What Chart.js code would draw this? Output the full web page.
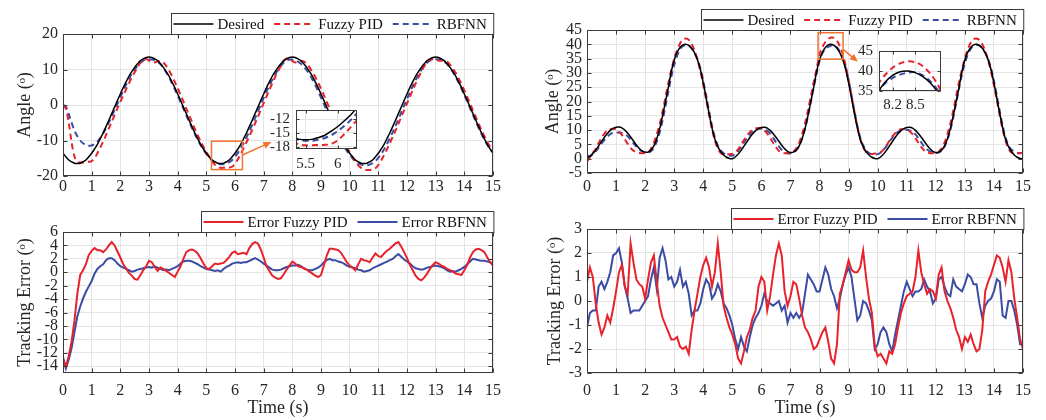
<!DOCTYPE html>
<html>
<head>
<meta charset="utf-8">
<script src="https://cdn.jsdelivr.net/npm/chart.js@4.4.1/dist/chart.umd.min.js"></script>
<style>
    html, body { margin: 0; padding: 0; background: #fff; }
    #figura { position: relative; width: 1046px; height: 420px; overflow: hidden; background: #fff; }
    #figura canvas { position: absolute; }
</style>
</head>
<body>
<div id="figura">
    <canvas id="anguloEsq" width="520" height="200" style="left:0;top:0"></canvas>
    <canvas id="anguloDir" width="523" height="200" style="left:523px;top:0"></canvas>
    <canvas id="erroEsq" width="520" height="215" style="left:0;top:205px"></canvas>
    <canvas id="erroDir" width="523" height="215" style="left:523px;top:205px"></canvas>
    <canvas id="zoomEsq" width="115" height="80" style="left:250px;top:95px"></canvas>
    <canvas id="zoomDir" width="112" height="76" style="left:838px;top:36px"></canvas>
</div>
<script>
// sample times (s)
const timeS = [
    0,0.1,0.2,0.3,0.4,0.5,0.6,0.7,0.8,0.9,
    1,1.1,1.2,1.3,1.4,1.5,1.6,1.7,1.8,1.9,
    2,2.1,2.2,2.3,2.4,2.5,2.6,2.7,2.8,2.9,
    3,3.1,3.2,3.3,3.4,3.5,3.6,3.7,3.8,3.9,
    4,4.1,4.2,4.3,4.4,4.5,4.6,4.7,4.8,4.9,
    5,5.1,5.2,5.3,5.4,5.5,5.6,5.7,5.8,5.9,
    6,6.1,6.2,6.3,6.4,6.5,6.6,6.7,6.8,6.9,
    7,7.1,7.2,7.3,7.4,7.5,7.6,7.7,7.8,7.9,
    8,8.1,8.2,8.3,8.4,8.5,8.6,8.7,8.8,8.9,
    9,9.1,9.2,9.3,9.4,9.5,9.6,9.7,9.8,9.9,
    10,10.1,10.2,10.3,10.4,10.5,10.6,10.7,10.8,10.9,
    11,11.1,11.2,11.3,11.4,11.5,11.6,11.7,11.8,11.9,
    12,12.1,12.2,12.3,12.4,12.5,12.6,12.7,12.8,12.9,
    13,13.1,13.2,13.3,13.4,13.5,13.6,13.7,13.8,13.9,
    14,14.1,14.2,14.3,14.4,14.5,14.6,14.7,14.8,14.9,
    15
];

// joint 1 angle (deg)
const desiredLeft = [
    -13.6,-14.6,-15.5,-16.0,-16.4,-16.5,-16.4,-16.0,-15.5,-14.6,
    -13.6,-12.4,-11.1,-9.5,-7.9,-6.1,-4.3,-2.4,-0.6,1.3,
    3.1,4.9,6.5,8.1,9.4,10.6,11.6,12.5,13.0,13.4,
    13.5,13.4,13.0,12.5,11.6,10.6,9.4,8.1,6.5,4.9,
    3.1,1.3,-0.6,-2.4,-4.3,-6.1,-7.9,-9.5,-11.1,-12.4,
    -13.6,-14.6,-15.5,-16.0,-16.4,-16.5,-16.4,-16.0,-15.5,-14.6,
    -13.6,-12.4,-11.1,-9.5,-7.9,-6.1,-4.3,-2.4,-0.6,1.3,
    3.1,4.9,6.5,8.1,9.4,10.6,11.6,12.5,13.0,13.4,
    13.5,13.4,13.0,12.5,11.6,10.6,9.4,8.1,6.5,4.9,
    3.1,1.3,-0.6,-2.4,-4.3,-6.1,-7.9,-9.5,-11.1,-12.4,
    -13.6,-14.6,-15.5,-16.0,-16.4,-16.5,-16.4,-16.0,-15.5,-14.6,
    -13.6,-12.4,-11.1,-9.5,-7.9,-6.1,-4.3,-2.4,-0.6,1.3,
    3.1,4.9,6.5,8.1,9.4,10.6,11.6,12.5,13.0,13.4,
    13.5,13.4,13.0,12.5,11.6,10.6,9.4,8.1,6.5,4.9,
    3.1,1.3,-0.6,-2.4,-4.3,-6.1,-7.9,-9.5,-11.1,-12.4,
    -13.6
];
const fuzzyLeft = [
    0,-1.0,-5.0,-10.5,-14.5,-16.0,-16.2,-16.2,-16.1,-16.0,
    -15.8,-15.0,-13.6,-12.0,-10.3,-8.5,-6.6,-4.7,-2.8,-0.9,
    0.9,2.7,4.4,6.1,7.7,9.2,10.6,11.9,12.8,13.0,
    12.5,12.0,12.0,12.3,12.4,12.0,11.0,9.7,8.2,6.5,
    4.7,2.9,1.0,-1.0,-2.9,-4.8,-6.7,-8.5,-10.2,-11.8,
    -13.2,-14.6,-15.8,-16.8,-17.5,-17.7,-17.7,-17.6,-17.6,-17.4,
    -16.6,-15.3,-13.8,-12.2,-10.5,-8.8,-7.0,-5.2,-3.3,-1.4,
    0.5,2.4,4.3,6.1,7.9,9.5,11.0,12.4,13.1,12.9,
    12.4,12.0,12.1,12.4,12.3,11.6,10.6,9.3,7.9,6.3,
    4.6,2.8,0.9,-1.0,-2.9,-4.8,-6.7,-8.5,-10.2,-11.9,
    -13.4,-14.8,-16.0,-17.0,-17.7,-18.1,-18.3,-18.3,-18.2,-17.8,
    -16.9,-15.6,-14.1,-12.5,-10.8,-9.0,-7.2,-5.3,-3.4,-1.5,
    0.4,2.3,4.2,6.0,7.8,9.4,10.9,12.1,12.8,12.9,
    12.7,12.5,12.5,12.5,12.2,11.4,10.3,9.0,7.5,5.9,
    4.1,2.3,0.4,-1.5,-3.4,-5.3,-7.1,-8.8,-10.4,-11.8,
    -13.0
];
const rbfLeft = [
    0,-0.5,-2.5,-5.0,-7.2,-8.8,-10.0,-10.8,-11.3,-11.5,
    -11.4,-11.0,-10.3,-9.3,-8.0,-6.5,-4.9,-3.2,-1.4,0.4,
    2.2,4.0,5.7,7.3,8.8,10.0,11.1,11.9,12.5,12.8,
    12.9,12.8,12.6,12.2,11.5,10.5,9.2,7.8,6.2,4.5,
    2.7,0.9,-1.0,-2.9,-4.7,-6.5,-8.2,-9.8,-11.3,-12.6,
    -13.8,-14.8,-15.6,-16.2,-16.5,-16.7,-16.7,-16.5,-16.1,-15.5,
    -14.6,-13.5,-12.2,-10.7,-9.1,-7.4,-5.6,-3.7,-1.8,0.1,
    2.0,3.8,5.5,7.1,8.6,9.9,11.0,11.9,12.5,12.8,
    12.8,12.6,12.2,11.6,10.8,9.8,8.6,7.2,5.6,3.9,
    2.1,0.3,-1.6,-3.5,-5.3,-7.0,-8.7,-10.2,-11.6,-12.9,
    -14.0,-15.0,-15.8,-16.4,-16.8,-17.0,-17.0,-16.8,-16.4,-15.8,
    -14.9,-13.8,-12.5,-11.0,-9.4,-7.7,-5.9,-4.0,-2.1,-0.2,
    1.7,3.5,5.3,7.0,8.5,9.9,11.0,11.9,12.5,12.8,
    12.9,12.8,12.6,12.2,11.5,10.5,9.3,7.9,6.3,4.6,
    2.8,1.0,-0.9,-2.8,-4.7,-6.5,-8.2,-9.8,-11.2,-12.4,
    -13.4
];

// joint 2 angle (deg)
const desiredRight = [
    0.3,0.8,1.8,3.0,4.5,6.0,7.5,8.8,9.9,10.6,
    11.0,11.1,10.8,10.0,8.9,7.6,6.2,4.8,3.6,2.7,
    2.3,2.3,3.0,4.5,7.0,10.5,15.0,20.0,25.0,30.5,
    34.5,37.2,38.9,39.8,40.0,39.6,38.6,37.0,34.6,31.2,
    26.5,21.2,15.8,10.8,6.8,4.2,2.5,1.3,0.5,0.1,
    0.0,0.6,1.6,2.9,4.4,5.9,7.4,8.7,9.8,10.5,
    10.9,11.0,10.7,9.9,8.8,7.5,6.1,4.7,3.5,2.6,
    2.2,2.3,3.0,4.5,7.0,10.5,15.0,20.0,25.0,30.5,
    34.5,37.2,38.9,39.8,40.0,39.6,38.6,37.0,34.6,31.2,
    26.5,21.2,15.8,10.8,6.8,4.2,2.5,1.3,0.5,0.1,
    0.0,0.6,1.6,2.9,4.4,5.9,7.4,8.7,9.8,10.5,
    10.9,11.0,10.7,9.9,8.8,7.5,6.1,4.7,3.5,2.6,
    2.2,2.3,3.0,4.5,7.0,10.5,15.0,20.0,25.0,30.5,
    34.5,37.2,38.9,39.8,40.0,39.6,38.6,37.0,34.6,31.2,
    26.5,21.2,15.8,10.8,6.8,4.2,2.5,1.3,0.5,0.1,
    0.0
];
const fuzzyRight = [
    -1.0,0.5,2.0,3.5,5.5,7.3,8.8,9.8,10.3,10.5,
    10.3,9.5,8.3,6.8,5.2,3.8,2.8,2.2,2.0,1.9,
    2.0,2.2,3.5,5.5,8.5,12.0,16.5,21.5,26.5,31.0,
    35.0,38.0,40.3,41.7,42.0,41.6,40.2,37.8,34.6,30.6,
    25.8,20.6,15.3,10.4,6.4,3.5,2.0,1.5,1.5,1.6,
    1.7,2.2,3.3,4.8,6.5,8.0,9.3,10.2,10.6,10.7,
    10.5,9.9,8.8,7.3,5.6,4.0,2.8,2.1,1.9,1.9,
    2.0,2.4,3.6,5.6,8.6,12.2,16.8,21.8,26.8,31.4,
    36.5,39.0,40.8,41.9,42.4,42.2,41.2,39.3,36.5,32.5,
    27.5,22.0,16.5,11.3,7.0,4.0,2.4,1.8,1.6,1.8,
    1.8,2.2,3.2,4.6,6.2,7.7,8.9,9.8,10.3,10.4,
    10.2,9.6,8.6,7.2,5.6,4.1,2.9,2.2,1.9,1.9,
    2.0,2.4,3.6,5.6,8.6,12.2,16.8,21.8,26.8,31.2,
    35.2,38.3,40.5,41.8,42.0,41.5,40.0,37.6,34.4,30.4,
    25.6,20.4,15.1,10.2,6.3,3.5,2.2,1.8,1.8,1.9,
    2.0
];
const rbfRight = [
    1.2,0.9,1.5,2.6,3.9,5.3,6.6,7.7,8.6,9.1,
    9.2,9.1,9.0,8.6,7.8,6.7,5.4,4.2,3.2,2.5,
    2.1,2.1,2.6,3.8,6.0,9.2,13.4,18.4,23.6,28.6,
    32.8,36.0,38.2,39.4,39.7,39.5,38.6,37.0,34.8,31.6,
    27.2,22.0,16.6,11.5,7.4,4.6,2.9,1.9,1.4,1.1,
    1.1,1.6,2.7,4.1,5.7,7.2,8.5,9.5,10.2,10.5,
    10.6,10.4,9.8,8.8,7.4,5.8,4.3,3.1,2.3,1.9,
    1.9,2.2,3.0,4.5,7.0,10.4,14.8,19.8,25.0,29.8,
    34.2,36.9,38.3,39.1,39.6,39.7,38.9,37.4,35.1,31.8,
    27.4,22.2,16.8,11.7,7.5,4.7,3.0,2.0,1.6,1.5,
    1.6,2.1,3.1,4.4,5.9,7.3,8.5,9.4,9.9,10.1,
    10.1,9.9,9.4,8.5,7.2,5.7,4.3,3.2,2.5,2.1,
    2.0,2.1,2.8,4.2,6.6,10.0,14.4,19.4,24.6,29.4,
    33.4,36.4,38.4,39.5,39.8,39.5,38.6,37.0,34.8,31.6,
    27.2,22.0,16.6,11.5,7.4,4.7,3.2,2.5,2.1,2.0,
    2.0
];

// tracking errors (deg)
const errFuzzyLeft = [
    -13.1,-14.0,-12.5,-10.3,-7.2,-3.2,-0.4,0.3,1.2,2.6,
    3.2,3.6,3.3,3.3,3.0,3.4,4.0,4.5,4.0,3.1,
    2.2,1.2,0.6,-0.1,-0.5,-1.0,-1.1,-0.4,0.3,0.9,
    1.7,1.5,0.8,0.2,0.7,0.5,0.2,-0.1,-0.4,-0.7,
    0.1,0.9,2.0,3.0,3.3,3.4,3.2,2.8,2.1,1.3,
    0.6,0.5,0.9,1.3,1.2,1.3,1.4,1.8,2.3,2.9,
    3.1,2.7,2.8,2.9,2.7,3.6,4.2,4.5,4.3,3.4,
    2.2,0.9,0.2,-0.5,-0.8,-1.0,-0.9,-0.3,0.4,1.0,
    1.6,1.3,0.9,0.8,0.6,0.4,0.1,-0.2,-0.5,-0.7,
    -0.4,1.0,2.5,3.5,3.5,3.4,3.3,2.9,2.2,1.5,
    1.0,0.7,0.3,1.2,2.0,1.8,1.7,1.5,2.2,2.8,
    2.4,2.3,2.8,3.2,3.5,3.9,4.3,4.5,3.8,3.0,
    2.1,1.1,0.3,-0.5,-1.0,-1.2,-0.8,-0.2,0.5,1.1,
    1.5,1.3,1.0,0.8,0.5,0.3,0.1,-0.2,-0.3,-0.4,
    0.3,1.1,2.2,3.0,3.4,3.5,3.3,3.0,2.2,1.5,
    1.0
];
const errRbfLeft = [
    -12.6,-14.3,-13.0,-11.3,-8.9,-6.6,-5.1,-3.9,-2.9,-2.1,
    -1.3,-0.2,0.5,0.9,1.2,1.8,2.1,2.1,1.8,1.3,
    0.9,0.7,0.5,0.3,0.1,0.2,0.4,0.5,0.6,0.7,
    0.8,0.7,0.9,0.7,0.5,0.3,0.4,0.3,0.5,0.7,
    0.9,1.3,1.6,1.7,1.7,1.6,1.4,1.2,0.9,0.7,
    0.5,0.4,0.3,0.2,0.3,0.1,0.5,0.8,1.0,1.3,
    1.4,1.5,1.4,1.5,1.5,1.7,1.9,2.1,1.9,1.6,
    1.3,1.0,0.7,0.4,0.3,0.3,0.4,0.6,0.8,0.9,
    1.0,1.0,1.1,0.9,0.6,0.4,0.3,0.3,0.5,0.7,
    1.0,1.5,1.8,2.0,1.8,1.8,1.6,1.5,1.3,1.0,
    0.8,0.7,0.6,0.4,0.3,0.1,0.2,0.3,0.6,0.8,
    1.0,1.2,1.4,1.6,1.8,2.0,2.4,2.7,2.3,1.9,
    1.6,1.3,0.9,0.6,0.5,0.4,0.5,0.7,0.8,0.9,
    1.0,0.9,0.8,0.6,0.3,0.1,0.2,0.1,0.3,0.5,
    0.8,1.2,1.6,2.0,1.9,1.8,1.7,1.7,1.6,1.5,
    1.3
];
const errFuzzyRight = [
    0.8,1.4,1.0,-0.1,-0.9,-1.4,-1.1,-0.6,-0.9,-0.3,
    0.4,1.2,1.5,0.6,0.3,2.4,1.6,0.9,0.7,0.6,
    0.1,0.9,1.6,1.9,0.8,-0.2,-0.7,-1.0,-1.3,-1.6,
    -1.6,-1.5,-1.9,-2.0,-1.9,-2.2,-1.2,-0.4,0.3,1.0,
    1.5,1.8,1.4,0.6,1.2,2.4,1.2,-0.2,-0.7,-1.1,
    -1.4,-1.8,-2.4,-2.6,-2.1,-1.5,-1.2,-0.7,-0.4,0.6,
    1.0,0.8,-0.4,0.2,1.1,1.9,2.4,1.9,0.4,-0.2,
    0.2,0.8,0.7,0.1,-0.6,-1.1,-1.3,-1.6,-2.0,-1.9,
    -1.6,-1.3,-1.1,-1.7,-2.4,-2.6,-1.8,0.3,0.7,1.2,
    1.7,1.3,1.2,1.2,1.4,2.1,1.0,0.1,-0.5,-1.9,
    -2.3,-2.2,-2.4,-2.6,-2.1,-2.2,-1.8,-1.1,-0.5,-0.1,
    0.2,0.3,0.4,1.0,2.1,1.2,0.7,0.3,0.5,0.4,
    0.1,1.1,1.4,0.4,0.0,-0.3,-0.7,-1.2,-1.5,-2.0,
    -1.5,-1.7,-1.4,-1.8,-2.1,-2.0,-1.2,0.4,0.8,1.1,
    1.5,1.9,1.8,1.4,0.8,1.7,1.2,0.1,-0.7,-1.6,
    -2.0
];
const errRbfRight = [
    -1.1,-0.5,-0.4,-0.4,0.6,0.8,0.5,0.8,1.2,1.9,
    2.0,2.2,1.6,0.6,0.1,-0.5,-0.4,-0.4,-0.4,-0.2,
    0.0,0.2,0.9,1.4,0.5,1.8,2.2,1.7,0.9,1.0,
    0.6,0.8,1.3,0.6,0.8,0.3,-0.6,-0.4,-0.4,-0.1,
    0.5,0.9,0.7,0.1,0.3,0.7,0.4,-0.1,-0.3,-0.6,
    -1.0,-1.6,-2.0,-1.5,-1.9,-2.1,-1.5,-1.0,-0.7,-0.5,
    -0.2,0.3,0.0,-0.1,-0.2,-0.1,0.0,-0.4,-0.2,-0.9,
    -0.5,-0.7,-0.5,-0.7,-0.5,0.3,1.1,0.9,0.7,0.4,
    0.4,0.9,1.4,1.1,0.5,0.2,-0.3,0.1,0.7,1.1,
    1.4,1.0,0.1,-0.8,-0.6,0.0,-0.1,-0.4,-0.8,-2.0,
    -1.8,-1.3,-1.1,-1.3,-1.8,-2.1,-1.4,-0.8,-0.2,0.4,
    0.8,0.5,0.2,0.4,0.4,0.5,0.9,0.6,0.4,-0.1,
    0.1,0.9,1.0,0.6,0.3,0.2,0.9,0.6,0.5,0.4,
    0.7,1.1,1.0,0.7,0.7,-0.1,-0.7,-0.2,0.0,0.1,
    0.4,0.9,0.8,-0.6,-0.7,0.0,0.0,-0.4,-1.0,-1.8,
    -1.8
];

// tick labels
const timeTicks = [0,1,2,3,4,5,6,7,8,9,10,11,12,13,14,15];
const angleLeftTicks = [-20,-10,0,10,20];
const angleRightTicks = [-5,0,5,10,15,20,25,30,35,40,45];
const errLeftTicks = [-14,-12,-10,-8,-6,-4,-2,0,2,4,6];
const errRightTicks = [-3,-2,-1,0,1,2,3];
const zoomLeftXTicks = [5.5, 6];
const zoomLeftYTicks = [-18,-15,-12];
const zoomRightXTicks = [8.2, 8.5];
const zoomRightYTicks = [35,40,45];

// zoom boxes [t0, t1, y0, y1] and arrows [t0, y0, t1, y1]
const zoomBoxLeft = [5.18, 6.26, -18.2, -10.2];
const zoomArrowLeft = [6.26, -14.1, 7.27, -10.4];
const zoomBoxRight = [7.95, 8.81, 34.8, 44.05];
const zoomArrowRight = [8.81, 38.2, 9.32, 33.9];

const tinta = '#262626';
const corGrade = '#e4e4e4';
const corMoldura = '#3a3a3a';
const vermelho = '#e8222b';
const azul = '#3a4ca3';
const laranja = '#f0742d';

Chart.defaults.font.family = '"Liberation Serif", "DejaVu Serif", serif';
Chart.defaults.color = tinta;

function pontos(serie) {
    return timeS.map((t, i) => ({ x: t, y: serie[i] }));
}

function linha(label, serie, cor, largura, tracejado, tensao) {
    return {
        label: label,
        data: pontos(serie),
        borderColor: cor,
        borderWidth: largura,
        borderDash: tracejado,
        pointRadius: 0,
        tension: tensao,
        fill: false,
        clip: 0
    };
}

// white plot area (for insets) + box with inward ticks
const molduraPlugin = {
    id: 'moldura',
    beforeDraw(chart, args, o) {
        if (!o.fundo) return;
        const a = chart.chartArea, ctx = chart.ctx;
        ctx.save();
        ctx.fillStyle = '#fff';
        ctx.fillRect(a.left, a.top, a.right - a.left, a.bottom - a.top);
        ctx.restore();
    },
    afterDatasetsDraw(chart, args, o) {
        const ctx = chart.ctx, a = chart.chartArea;
        const sx = chart.scales.x, sy = chart.scales.y;
        const L = Math.round(a.left) + 0.5, R = Math.round(a.right) - 0.5;
        const T = Math.round(a.top) + 0.5, B = Math.round(a.bottom) - 0.5;
        const k = o.tique || 4;
        ctx.save();
        ctx.strokeStyle = corMoldura;
        ctx.lineWidth = 1;
        ctx.strokeRect(L, T, R - L, B - T);
        ctx.beginPath();
        sx.ticks.forEach(t => {
            const p = Math.round(sx.getPixelForValue(t.value)) + 0.5;
            ctx.moveTo(p, B); ctx.lineTo(p, B - k);
            ctx.moveTo(p, T); ctx.lineTo(p, T + k);
        });
        sy.ticks.forEach(t => {
            const p = Math.round(sy.getPixelForValue(t.value)) + 0.5;
            ctx.moveTo(L, p); ctx.lineTo(L + k, p);
            ctx.moveTo(R, p); ctx.lineTo(R - k, p);
        });
        ctx.stroke();
        ctx.restore();
    }
};

// orange zoom rectangle + arrow
const zoomPlugin = {
    id: 'marcaZoom',
    afterDatasetsDraw(chart, args, o) {
        if (!o.caixa) return;
        const ctx = chart.ctx, sx = chart.scales.x, sy = chart.scales.y;
        const c = o.caixa, s = o.seta;
        const x0 = sx.getPixelForValue(c[0]), x1 = sx.getPixelForValue(c[1]);
        const y0 = sy.getPixelForValue(c[2]), y1 = sy.getPixelForValue(c[3]);
        ctx.save();
        ctx.strokeStyle = laranja;
        ctx.fillStyle = laranja;
        ctx.lineWidth = 1.5;
        ctx.strokeRect(x0, y1, x1 - x0, y0 - y1);
        const ax = sx.getPixelForValue(s[0]), ay = sy.getPixelForValue(s[1]);
        const bx = sx.getPixelForValue(s[2]), by = sy.getPixelForValue(s[3]);
        const ang = Math.atan2(by - ay, bx - ax);
        ctx.beginPath();
        ctx.moveTo(ax, ay);
        ctx.lineTo(bx - 6 * Math.cos(ang), by - 6 * Math.sin(ang));
        ctx.stroke();
        ctx.beginPath();
        ctx.moveTo(bx, by);
        ctx.lineTo(bx - 8 * Math.cos(ang) + 3.5 * Math.sin(ang), by - 8 * Math.sin(ang) - 3.5 * Math.cos(ang));
        ctx.lineTo(bx - 8 * Math.cos(ang) - 3.5 * Math.sin(ang), by - 8 * Math.sin(ang) + 3.5 * Math.cos(ang));
        ctx.closePath();
        ctx.fill();
        ctx.restore();
    }
};

// boxed legend above the plot, right aligned
const legendaPlugin = {
    id: 'legendaCaixa',
    afterDraw(chart, args, o) {
        if (!o.mostrar) return;
        const ctx = chart.ctx, a = chart.chartArea;
        const sets = chart.data.datasets;
        const traco = 40, alt = 21;
        ctx.save();
        ctx.font = '15px "Liberation Serif", serif';
        const larg = sets.map(d => ctx.measureText(d.label).width);
        let w = 2;
        larg.forEach(t => { w += traco + 4 + t + 10; });
        w -= 3;
        const x0 = Math.round(a.right - w) + 0.5, y0 = Math.round(a.top - alt) + 0.5;
        ctx.fillStyle = '#fff';
        ctx.fillRect(x0, y0, w, alt);
        ctx.strokeStyle = corMoldura;
        ctx.lineWidth = 1;
        ctx.strokeRect(x0, y0, w, alt);
        let x = x0 + 2;
        const ym = y0 + alt / 2;
        sets.forEach((d, i) => {
            ctx.beginPath();
            ctx.setLineDash(d.borderDash || []);
            ctx.strokeStyle = d.borderColor;
            ctx.lineWidth = d.borderWidth;
            ctx.moveTo(x, ym);
            ctx.lineTo(x + traco, ym);
            ctx.stroke();
            ctx.setLineDash([]);
            x += traco + 4;
            ctx.fillStyle = '#111';
            ctx.textBaseline = 'middle';
            ctx.fillText(d.label, x, ym + 1);
            x += larg[i] + 10;
        });
        ctx.restore();
    }
};

function eixo(min, max, ticks, tamanho, pad, fonte, titulo, tituloPad, horizontal) {
    return {
        type: 'linear',
        min: min,
        max: max,
        afterBuildTicks: s => { s.ticks = ticks.map(v => ({ value: v })); },
        afterFit: s => { if (horizontal) s.height = tamanho; else s.width = tamanho; },
        grid: { color: corGrade, lineWidth: 1, drawTicks: false },
        border: { display: false },
        ticks: {
            autoSkip: false, maxRotation: 0, padding: pad, color: tinta, font: { size: fonte },
            callback: v => String(v)
        },
        title: titulo ? {
            display: true, text: titulo, color: tinta, font: { size: 18 },
            padding: horizontal ? { top: 0, bottom: tituloPad } : { top: tituloPad, bottom: 0 }
        } : { display: false }
    };
}

function grafico(id, sets, c) {
    const fonte = c.inset ? 15 : 16;
    return new Chart(document.getElementById(id), {
        type: 'line',
        data: { datasets: sets },
        options: {
            responsive: false,
            animation: false,
            devicePixelRatio: 1,
            events: [],
            layout: { padding: { left: 0, right: c.dir, top: c.topo, bottom: 0 } },
            plugins: {
                legend: { display: false },
                tooltip: { enabled: false },
                moldura: { fundo: !!c.inset, tique: c.inset ? 3 : 4 },
                marcaZoom: c.zoom || {},
                legendaCaixa: { mostrar: !c.inset }
            },
            scales: {
                x: eixo(c.xMin, c.xMax, c.xTicks, c.xAlt, c.xPad, fonte, c.xTitulo, 1, true),
                y: eixo(c.yMin, c.yMax, c.yTicks, c.yLarg, c.yPad, fonte, c.yTitulo, c.yTituloPad, false)
            }
        },
        plugins: [molduraPlugin, zoomPlugin, legendaPlugin]
    });
}

function conjuntoAngulo(des, fuz, rbf) {
    return [
        linha('Desired', des, '#000000', 1.5, [], 0.3),
        linha('Fuzzy PID', fuz, vermelho, 2, [6, 4], 0.3),
        linha('RBFNN', rbf, azul, 2, [6, 4], 0.3)
    ];
}
function conjuntoErro(fuz, rbf) {
    return [
        linha('Error Fuzzy PID', fuz, vermelho, 2, [], 0),
        linha('Error RBFNN', rbf, azul, 2, [], 0)
    ];
}

grafico('anguloEsq', conjuntoAngulo(desiredLeft, fuzzyLeft, rbfLeft), {
    dir: 27, topo: 34, xMin: 0, xMax: 15, xTicks: timeTicks, xAlt: 24, xPad: 1,
    yMin: -20, yMax: 20, yTicks: angleLeftTicks, yLarg: 63, yPad: 5,
    yTitulo: 'Angle (\u1D52)', yTituloPad: 14,
    zoom: { caixa: zoomBoxLeft, seta: zoomArrowLeft }
});
grafico('anguloDir', conjuntoAngulo(desiredRight, fuzzyRight, rbfRight), {
    dir: 23, topo: 30, xMin: 0, xMax: 15, xTicks: timeTicks, xAlt: 27, xPad: 4,
    yMin: -5, yMax: 45, yTicks: angleRightTicks, yLarg: 64, yPad: 5,
    yTitulo: 'Angle (\u1D52)', yTituloPad: 19,
    zoom: { caixa: zoomBoxRight, seta: zoomArrowRight }
});
grafico('erroEsq', conjuntoErro(errFuzzyLeft, errRbfLeft), {
    dir: 27, topo: 27, xMin: 0, xMax: 15, xTicks: timeTicks, xAlt: 47, xPad: 8, xTitulo: 'Time (s)',
    yMin: -15, yMax: 6, yTicks: errLeftTicks, yLarg: 63, yPad: 5,
    yTitulo: 'Tracking Error (\u1D52)', yTituloPad: 14
});
grafico('erroDir', conjuntoErro(errFuzzyRight, errRbfRight), {
    dir: 23, topo: 24, xMin: 0, xMax: 15, xTicks: timeTicks, xAlt: 47, xPad: 8, xTitulo: 'Time (s)',
    yMin: -3, yMax: 3, yTicks: errRightTicks, yLarg: 64, yPad: 5,
    yTitulo: 'Tracking Error (\u1D52)', yTituloPad: 21
});

// insets
grafico('zoomEsq', conjuntoAngulo(desiredLeft, fuzzyLeft, rbfLeft), {
    inset: true, dir: 8, topo: 8, xMin: 5.35, xMax: 6.3, xTicks: zoomLeftXTicks, xAlt: 26, xPad: 6,
    yMin: -18.5, yMax: -10, yTicks: zoomLeftYTicks, yLarg: 46, yPad: 6
});
grafico('zoomDir', conjuntoAngulo(desiredRight, fuzzyRight, rbfRight), {
    inset: true, dir: 9, topo: 8, xMin: 8.02, xMax: 8.84, xTicks: zoomRightXTicks, xAlt: 21, xPad: 5,
    yMin: 35, yMax: 45, yTicks: zoomRightYTicks, yLarg: 41, yPad: 6
});
</script>
</body>
</html>
